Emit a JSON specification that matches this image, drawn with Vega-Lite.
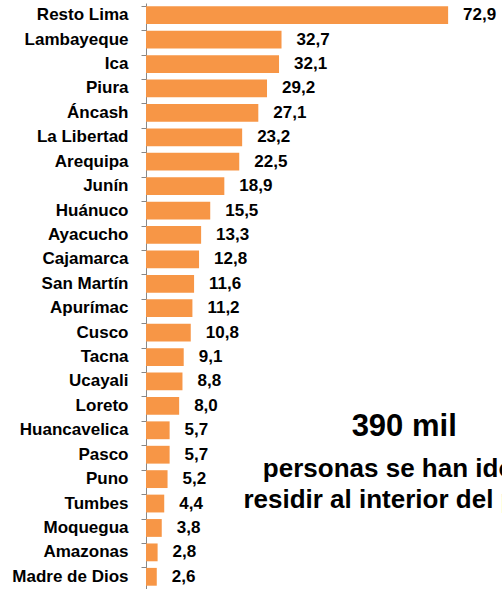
{
  "$schema": "https://vega.github.io/schema/vega-lite/v6.json",
  "autosize": "none",
  "width": 356,
  "height": 586,
  "padding": {"left": 146, "top": 3, "right": 0, "bottom": 0},
  "background": "white",
  "config": {
    "view": {"stroke": null},
    "font": "Liberation Sans",
    "locale": {"number": {"decimal": ",", "thousands": ".", "grouping": [3], "currency": ["S/ ", ""]}}
  },
  "datasets": {
    "regions": [
      {"region": "Resto Lima", "value": 72.9},
      {"region": "Lambayeque", "value": 32.7},
      {"region": "Ica", "value": 32.1},
      {"region": "Piura", "value": 29.2},
      {"region": "Áncash", "value": 27.1},
      {"region": "La Libertad", "value": 23.2},
      {"region": "Arequipa", "value": 22.5},
      {"region": "Junín", "value": 18.9},
      {"region": "Huánuco", "value": 15.5},
      {"region": "Ayacucho", "value": 13.3},
      {"region": "Cajamarca", "value": 12.8},
      {"region": "San Martín", "value": 11.6},
      {"region": "Apurímac", "value": 11.2},
      {"region": "Cusco", "value": 10.8},
      {"region": "Tacna", "value": 9.1},
      {"region": "Ucayali", "value": 8.8},
      {"region": "Loreto", "value": 8.0},
      {"region": "Huancavelica", "value": 5.7},
      {"region": "Pasco", "value": 5.7},
      {"region": "Puno", "value": 5.2},
      {"region": "Tumbes", "value": 4.4},
      {"region": "Moquegua", "value": 3.8},
      {"region": "Amazonas", "value": 2.8},
      {"region": "Madre de Dios", "value": 2.6}
    ]
  },
  "layer": [
    {
      "data": {"name": "regions"},
      "mark": {"type": "bar", "color": "#F79646"},
      "encoding": {
        "y": {
          "field": "region", "type": "nominal", "sort": null,
          "scale": {"paddingInner": 0.27, "paddingOuter": 0.135},
          "axis": {
            "title": null, "domainColor": "#888888", "tickColor": "#888888",
            "tickSize": 5, "bandPosition": 0, "labelPadding": 13,
            "labelFont": "Liberation Sans", "labelFontWeight": "bold",
            "labelFontSize": 17, "labelColor": "#000000"
          }
        },
        "x": {
          "field": "value", "type": "quantitative",
          "scale": {"domain": [0, 85.9], "nice": false},
          "axis": null
        }
      }
    },
    {
      "data": {"name": "regions"},
      "mark": {"type": "text", "align": "left", "baseline": "middle", "dx": 15, "fontWeight": "bold", "fontSize": 17, "color": "#000000"},
      "encoding": {
        "y": {"field": "region", "type": "nominal", "sort": null},
        "x": {"field": "value", "type": "quantitative"},
        "text": {"field": "value", "type": "quantitative", "format": ".1f"}
      }
    },
    {
      "data": {"values": [{"label": "390 mil", "xpos": 62.3, "row": "Huancavelica"}]},
      "mark": {"type": "text", "align": "center", "baseline": "alphabetic", "dy": 6, "fontWeight": "bold", "fontSize": 31, "color": "#000000"},
      "encoding": {
        "y": {"field": "row", "type": "nominal", "sort": null},
        "x": {"field": "xpos", "type": "quantitative"},
        "text": {"field": "label"}
      }
    },
    {
      "data": {"values": [{"label": "personas se han ido a", "xpos": 28.2, "row": "Puno"}]},
      "mark": {"type": "text", "align": "left", "baseline": "alphabetic", "dy": -2, "fontWeight": "bold", "fontSize": 26, "color": "#000000"},
      "encoding": {
        "y": {"field": "row", "type": "nominal", "sort": null},
        "x": {"field": "xpos", "type": "quantitative"},
        "text": {"field": "label"}
      }
    },
    {
      "data": {"values": [{"label": "residir al interior del país", "xpos": 23.5, "row": "Tumbes"}]},
      "mark": {"type": "text", "align": "left", "baseline": "alphabetic", "dy": 4, "fontWeight": "bold", "fontSize": 26, "color": "#000000"},
      "encoding": {
        "y": {"field": "row", "type": "nominal", "sort": null},
        "x": {"field": "xpos", "type": "quantitative"},
        "text": {"field": "label"}
      }
    }
  ]
}
